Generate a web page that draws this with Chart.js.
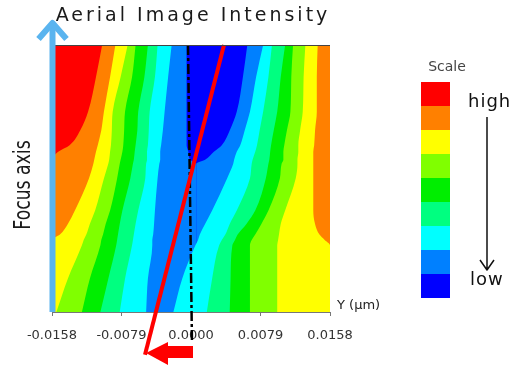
<!DOCTYPE html>
<html>
<head>
<meta charset="utf-8">
<script src="https://cdn.jsdelivr.net/npm/chart.js@4.4.0/dist/chart.umd.min.js"></script>
<style>
  html, body { margin: 0; padding: 0; background: #fff; }
</style>
</head>
<body>
<canvas id="intensity" width="521" height="368"></canvas>
<script>
// x axis (Y position, um) and its tick labels
const xMin = -0.0158;
const xMax = 0.0158;
const xTicks = [-0.0158, -0.0079, 0.0000, 0.0079, 0.0158];

// focus axis rows, 0 = top of plot, 100 = bottom
const focusRows = [0, 12, 25, 32, 37.5, 40, 43, 44.5, 50, 62, 67, 71, 73, 75, 87.5, 100];

// contour levels, high -> low
const levelColors = ['#ff0000', '#ff8000', '#ffff00', '#80ff00', '#00ee00', '#00ff80', '#00ffff', '#0080ff', '#0000ff'];

// left side: x where each band ends (band is filled from the left edge to here)
const leftRed    = [-0.0101, -0.0108, -0.0117, -0.0126, -0.0138, -0.0151, -0.0158, -0.0158, -0.0158, -0.0158, -0.0158, -0.0158, -0.0158, -0.0158, -0.0158, -0.0158];
const leftOrange = [-0.0086, -0.0092, -0.0099, -0.0102, -0.0106, -0.0108, -0.0110, -0.0111, -0.0116, -0.0132, -0.0140, -0.0149, -0.0158, -0.0158, -0.0158, -0.0158];
const leftYellow = [-0.0072, -0.0080, -0.0089, -0.0090, -0.0091, -0.0092, -0.0093, -0.0094, -0.0099, -0.0109, -0.0115, -0.0119, -0.0122, -0.0124, -0.0140, -0.0153];
const leftLgreen = [-0.0063, -0.0067, -0.0075, -0.0076, -0.0077, -0.0078, -0.0080, -0.0081, -0.0084, -0.0092, -0.0097, -0.0100, -0.0102, -0.0103, -0.0115, -0.0124];
const leftGreen  = [-0.0049, -0.0053, -0.0060, -0.0061, -0.0063, -0.0064, -0.0065, -0.0066, -0.0069, -0.0078, -0.0081, -0.0083, -0.0084, -0.0085, -0.0094, -0.0103];
const leftSgreen = [-0.0038, -0.0041, -0.0047, -0.0048, -0.0049, -0.0050, -0.0050, -0.0051, -0.0052, -0.0060, -0.0063, -0.0065, -0.0066, -0.0067, -0.0075, -0.0081];
const leftCyan   = [-0.0022, -0.0026, -0.0030, -0.0032, -0.0034, -0.0035, -0.0035, -0.0036, -0.0038, -0.0041, -0.0042, -0.0043, -0.0044, -0.0044, -0.0049, -0.0051];
const leftBlue   = [-0.0005, -0.0005, -0.0005, -0.0005, -0.0005, -0.0003, -0.0001, 0.0006, 0.0006, 0.0006, 0.0006, 0.0006, 0.0006, 0.0006, 0.0006, 0.0006];

// right side: x where each band starts (band is filled from here to the right edge)
const rightBlue   = [0.0064, 0.0059, 0.0052, 0.0044, 0.0035, 0.0026, 0.0016, 0.0006, 0.0006, 0.0006, 0.0006, 0.0006, 0.0006, 0.0006, 0.0006, 0.0006];
const rightCyan   = [0.0082, 0.0074, 0.0067, 0.0061, 0.0056, 0.0052, 0.0049, 0.0048, 0.0041, 0.0024, 0.0016, 0.0010, 0.0008, 0.0005, -0.0010, -0.0020];
const rightSgreen = [0.0092, 0.0088, 0.0082, 0.0078, 0.0075, 0.0073, 0.0070, 0.0069, 0.0067, 0.0052, 0.0044, 0.0039, 0.0035, 0.0032, 0.0024, 0.0018];
const rightGreen  = [0.0107, 0.0102, 0.0098, 0.0094, 0.0091, 0.0090, 0.0089, 0.0088, 0.0085, 0.0073, 0.0063, 0.0053, 0.0050, 0.0047, 0.0045, 0.0044];
const rightLgreen = [0.0116, 0.0114, 0.0113, 0.0109, 0.0106, 0.0105, 0.0105, 0.0103, 0.0101, 0.0088, 0.0080, 0.0073, 0.0069, 0.0067, 0.0067, 0.0067];
const rightYellow = [0.0130, 0.0128, 0.0127, 0.0124, 0.0122, 0.0122, 0.0121, 0.0121, 0.0119, 0.0107, 0.0102, 0.0100, 0.0099, 0.0098, 0.0098, 0.0098];
const rightOrange = [0.0144, 0.0143, 0.0143, 0.0141, 0.0140, 0.0139, 0.0139, 0.0139, 0.0139, 0.0139, 0.0141, 0.0146, 0.0152, 0.0158, 0.0158, 0.0158];

// red tilted line and the dash-dot reference line (x, focus)
const tiltLineX = [0.00375, -0.00523];
const tiltLineY = [0, 116];
const centerLineX = [-0.00034, 0.00011];
const centerLineY = [0, 111];

//builds one filled band boundary, fill goes to the left or right edge
function band(values, color, side) {
	return {
		data: focusRows.map((y, i) => ({x: values[i], y: y})),
		backgroundColor: color,
		borderColor: 'rgba(0,0,0,0)',
		borderWidth: 0,
		pointRadius: 0,
		cubicInterpolationMode: 'monotone',
		fill: {value: side === 'left' ? xMin : xMax}
	};
}

//simple line marker, allowed to run outside the plot
function marker(xs, ys, color, width, dash) {
	return {
		data: xs.map((x, i) => ({x: x, y: ys[i]})),
		borderColor: color,
		borderWidth: width,
		borderDash: dash,
		pointRadius: 0,
		fill: false,
		clip: false
	};
}

// first dataset is drawn on top, so the high levels come first
const datasets = [
	marker(tiltLineX, tiltLineY, '#ff0000', 4, []),
	marker(centerLineX, centerLineY, '#000000', 2.5, [10, 3, 3, 3]),
	band(leftRed, levelColors[0], 'left'),
	band(leftOrange, levelColors[1], 'left'),
	band(rightOrange, levelColors[1], 'right'),
	band(leftYellow, levelColors[2], 'left'),
	band(rightYellow, levelColors[2], 'right'),
	band(leftLgreen, levelColors[3], 'left'),
	band(rightLgreen, levelColors[3], 'right'),
	band(leftGreen, levelColors[4], 'left'),
	band(rightGreen, levelColors[4], 'right'),
	band(leftSgreen, levelColors[5], 'left'),
	band(rightSgreen, levelColors[5], 'right'),
	band(leftCyan, levelColors[6], 'left'),
	band(rightCyan, levelColors[6], 'right'),
	band(leftBlue, levelColors[7], 'left'),
	band(rightBlue, levelColors[7], 'right')
];

//background, arrows, labels and the colour scale
const decor = {
	id: 'decor',
	beforeDatasetsDraw(chart) {
		const {ctx, chartArea: a} = chart;
		ctx.save();
		ctx.fillStyle = levelColors[levelColors.length - 1];
		ctx.fillRect(a.left, a.top, a.right - a.left, a.bottom - a.top);
		ctx.restore();
	},
	afterDraw(chart) {
		const {ctx, chartArea: a, scales} = chart;
		const x0 = scales.x.getPixelForValue(0);
		ctx.save();

		// thin frame line at top
		ctx.strokeStyle = '#444';
		ctx.lineWidth = 1;
		ctx.beginPath();
		ctx.moveTo(a.left, a.top + 0.5);
		ctx.lineTo(a.right, a.top + 0.5);
		ctx.stroke();

		// focus axis arrow
		const ax = a.left + 0.5;
		ctx.strokeStyle = '#5ab4ef';
		ctx.lineWidth = 6;
		ctx.lineJoin = 'round';
		ctx.beginPath();
		ctx.moveTo(ax, a.bottom);
		ctx.lineTo(ax, a.top - 22);
		ctx.stroke();
		ctx.beginPath();
		ctx.moveTo(ax - 14, a.top - 6);
		ctx.lineTo(ax, a.top - 22);
		ctx.lineTo(ax + 14, a.top - 6);
		ctx.stroke();

		// red shift arrow under the axis
		ctx.fillStyle = '#ff0000';
		ctx.beginPath();
		ctx.moveTo(x0 + 2, a.bottom + 34);
		ctx.lineTo(x0 - 23, a.bottom + 34);
		ctx.lineTo(x0 - 23, a.bottom + 30);
		ctx.lineTo(x0 - 45, a.bottom + 41);
		ctx.lineTo(x0 - 23, a.bottom + 53);
		ctx.lineTo(x0 - 23, a.bottom + 46);
		ctx.lineTo(x0 + 2, a.bottom + 46);
		ctx.closePath();
		ctx.fill();

		// title
		ctx.fillStyle = '#1a1a1a';
		ctx.font = '19px "DejaVu Sans", sans-serif';
		ctx.letterSpacing = '3px';
		ctx.textAlign = 'center';
		ctx.textBaseline = 'alphabetic';
		ctx.fillText('Aerial Image Intensity', (a.left + a.right) / 2 + 2, 21);
		ctx.letterSpacing = '0px';

		// focus axis label, squeezed along its length like the original
		ctx.save();
		ctx.translate(24, 185);
		ctx.rotate(-Math.PI / 2);
		ctx.scale(0.75, 1);
		ctx.font = '23px "DejaVu Sans", sans-serif';
		ctx.textBaseline = 'middle';
		ctx.fillText('Focus axis', 0, 0);
		ctx.restore();

		// x axis name
		ctx.font = '13px "DejaVu Sans", sans-serif';
		ctx.textAlign = 'left';
		ctx.textBaseline = 'middle';
		ctx.fillStyle = '#222';
		ctx.fillText('Y (\u03bcm)', a.right + 7, a.bottom - 6);

		// colour scale
		const boxX = 421, boxTop = 82, boxW = 29, boxH = 24;
		levelColors.forEach((c, i) => {
			ctx.fillStyle = c;
			ctx.fillRect(boxX, boxTop + i * boxH, boxW, boxH);
		});
		ctx.fillStyle = '#444';
		ctx.font = '14px "DejaVu Sans", sans-serif';
		ctx.textAlign = 'center';
		ctx.fillText('Scale', 447, 67);
		ctx.fillStyle = '#111';
		ctx.font = '18px "DejaVu Sans", sans-serif';
		ctx.textAlign = 'left';
		ctx.letterSpacing = '1px';
		ctx.fillText('high', 468, 102);
		ctx.fillText('low', 470, 280);
		ctx.letterSpacing = '0px';
		ctx.strokeStyle = '#111';
		ctx.lineWidth = 1.5;
		ctx.beginPath();
		ctx.moveTo(487, 117);
		ctx.lineTo(487, 270);
		ctx.moveTo(480, 260);
		ctx.lineTo(487, 270);
		ctx.lineTo(494, 260);
		ctx.stroke();

		ctx.restore();
	}
};

new Chart(document.getElementById('intensity'), {
	type: 'line',
	data: {datasets: datasets},
	options: {
		indexAxis: 'y',
		responsive: false,
		animation: false,
		layout: {padding: {left: 52, right: 191, top: 45, bottom: 0}},
		plugins: {
			legend: {display: false},
			tooltip: {enabled: false}
		},
		scales: {
			x: {
				type: 'linear',
				position: 'bottom',
				min: xMin,
				max: xMax,
				afterBuildTicks: scale => {
					scale.ticks = xTicks.map(v => ({value: v}));
				},
				afterFit: scale => {
					scale.height = 56;
				},
				ticks: {
					callback: v => v.toFixed(4),
					font: {family: 'DejaVu Sans', size: 13},
					color: '#333',
					padding: 12,
					maxRotation: 0
				},
				grid: {drawOnChartArea: false, drawTicks: true, tickLength: 4, color: '#777'},
				border: {display: true, color: '#777'}
			},
			y: {
				type: 'linear',
				display: false,
				min: 0,
				max: 100,
				reverse: true
			}
		}
	},
	plugins: [decor]
});
</script>
</body>
</html>
